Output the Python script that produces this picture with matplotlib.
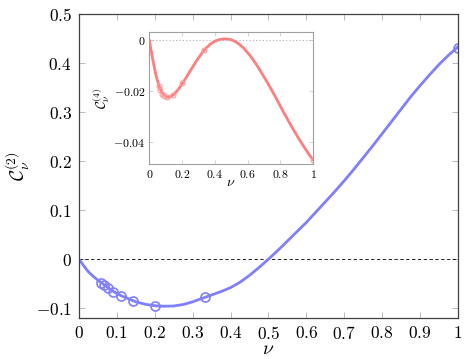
import matplotlib
matplotlib.use('Agg')
import matplotlib.pyplot as plt

plt.rcParams['mathtext.fontset'] = 'cm'
plt.rcParams['font.family'] = 'serif'
plt.rcParams['font.serif'] = ['cmr10', 'DejaVu Serif']
plt.rcParams['axes.formatter.use_mathtext'] = True

# curve samples
nu_blue = [0.0, 0.0125, 0.025, 0.0375, 0.05, 0.0625, 0.075, 0.0875, 0.1, 0.1125, 0.125, 0.15,
           0.175, 0.2, 0.225, 0.25, 0.275, 0.3, 0.325, 0.35, 0.375, 0.4, 0.425, 0.45, 0.475,
           0.5, 0.525, 0.55, 0.575, 0.6, 0.625, 0.65, 0.675, 0.7, 0.725, 0.75, 0.775, 0.8,
           0.825, 0.85, 0.875, 0.9, 0.925, 0.95, 0.975, 1.0]
c2_curve = [0.0, -0.0135, -0.026, -0.035, -0.043, -0.050, -0.057, -0.064, -0.070, -0.075,
            -0.079, -0.087, -0.092, -0.095, -0.096, -0.0955, -0.0925, -0.087, -0.080, -0.073,
            -0.066, -0.058, -0.047, -0.033, -0.017, 0.0, 0.018, 0.037, 0.056, 0.075, 0.096,
            0.117, 0.138, 0.160, 0.183, 0.207, 0.231, 0.256, 0.281, 0.306, 0.331, 0.354,
            0.376, 0.397, 0.416, 0.433]

nu_red = [0.0, 0.01, 0.02, 0.03, 0.04, 0.05, 0.0625, 0.075, 0.0875, 0.1, 0.1125, 0.125, 0.15,
          0.175, 0.2, 0.225, 0.25, 0.275, 0.3, 0.325, 0.35, 0.375, 0.4, 0.425, 0.45, 0.475,
          0.5, 0.525, 0.55, 0.575, 0.6, 0.625, 0.65, 0.675, 0.7, 0.725, 0.75, 0.775, 0.8,
          0.825, 0.85, 0.875, 0.9, 0.925, 0.95, 0.975, 1.0]
c4_curve = [0.0, -0.0037, -0.0072, -0.0105, -0.0135, -0.0160, -0.0185, -0.0203, -0.0215,
            -0.0221, -0.0224, -0.0223, -0.0213, -0.0195, -0.0172, -0.0147, -0.0121, -0.0095,
            -0.0070, -0.0048, -0.0030, -0.0015, -0.0005, 0.0001, 0.0004, 0.0004, 0.0001,
            -0.0006, -0.0017, -0.0031, -0.0049, -0.0069, -0.0092, -0.0117, -0.0144, -0.0171,
            -0.0199, -0.0228, -0.0258, -0.0288, -0.0317, -0.0345, -0.0372, -0.0398, -0.0423,
            -0.0447, -0.0469]

# filling fractions 1/17 ... 1/3, 1
nu_pts = [1/17, 1/15, 1/13, 1/11, 1/9, 1/7, 1/5, 1/3, 1.0]
c2_pts = [-0.048, -0.053, -0.059, -0.067, -0.075, -0.086, -0.096, -0.078, 0.430]
c4_pts = [-0.0180, -0.0195, -0.0210, -0.0220, -0.0224, -0.0215, -0.0170, -0.0040, -0.0469]

main_xticks = [0, 0.1, 0.2, 0.3, 0.4, 0.5, 0.6, 0.7, 0.8, 0.9, 1.0]
main_xlabels = ['$0$', '$0.1$', '$0.2$', '$0.3$', '$0.4$', '$0.5$', '$0.6$', '$0.7$', '$0.8$', '$0.9$', '$1$']
main_yticks = [-0.1, 0, 0.1, 0.2, 0.3, 0.4, 0.5]
main_ylabels = ['$-0.1$', '$0$', '$0.1$', '$0.2$', '$0.3$', '$0.4$', '$0.5$']
ins_xticks = [0, 0.2, 0.4, 0.6, 0.8, 1.0]
ins_xlabels = ['$0$', '$0.2$', '$0.4$', '$0.6$', '$0.8$', '$1$']
ins_yticks = [-0.04, -0.02, 0]
ins_ylabels = ['$-0.04$', '$-0.02$', '$0$']

blue = '#7f7fff'
red = '#ff7f7f'
spine = '#404040'

fig = plt.figure(figsize=(4.69, 3.59), dpi=100)
ax = fig.add_axes([0.1684, 0.1142, 0.8081, 0.8468])
ax.axhline(0, color='black', lw=0.6, ls=(0, (4, 3)))
ax.plot(nu_blue, c2_curve, color=blue, lw=2.0, solid_capstyle='round', solid_joinstyle='round')
ax.plot(nu_pts, c2_pts, ls='none', marker='o', ms=6.5, mfc='none', mec=blue, mew=1.2)
ax.set_xlim(0, 1)
ax.set_ylim(-0.12, 0.5)
ax.set_xticks(main_xticks)
ax.set_xticklabels(main_xlabels)
ax.set_yticks(main_yticks)
ax.set_yticklabels(main_ylabels)
ax.tick_params(direction='in', length=4, width=0.6, color='#b0b0b0', labelsize=12.5,
               top=True, right=True, pad=5)
for s in ax.spines.values():
    s.set_color(spine)
    s.set_linewidth(0.9)
ax.set_xlabel(r'$\nu$', fontsize=14, labelpad=-1)
ax.set_ylabel(r'$\mathcal{C}_\nu^{(2)}$', fontsize=14, labelpad=3)

ins = fig.add_axes([0.3183, 0.5432, 0.3491, 0.3668])
ins.axhline(0, color='#b0b0b0', lw=0.8, ls=(0, (1, 2)))
ins.plot(nu_red, c4_curve, color=red, lw=2.0, solid_capstyle='round', solid_joinstyle='round')
ins.plot(nu_pts, c4_pts, ls='none', marker='o', ms=3.5, mfc='none', mec='#ff9a9a', mew=0.8)
ins.set_xlim(0, 1)
ins.set_ylim(-0.0485, 0.003)
ins.set_xticks(ins_xticks)
ins.set_xticklabels(ins_xlabels)
ins.set_yticks(ins_yticks)
ins.set_yticklabels(ins_ylabels)
ins.tick_params(direction='in', length=3, width=0.5, color='#c0c0c0', labelsize=8.5,
                top=True, right=True, pad=3)
for s in ins.spines.values():
    s.set_color('#a0a0a0')
    s.set_linewidth(0.8)
ins.set_xlabel(r'$\nu$', fontsize=10, labelpad=-2)
ins.set_ylabel(r'$\mathcal{C}_\nu^{(4)}$', fontsize=10, labelpad=1)

fig.savefig('out.png', dpi=100)
